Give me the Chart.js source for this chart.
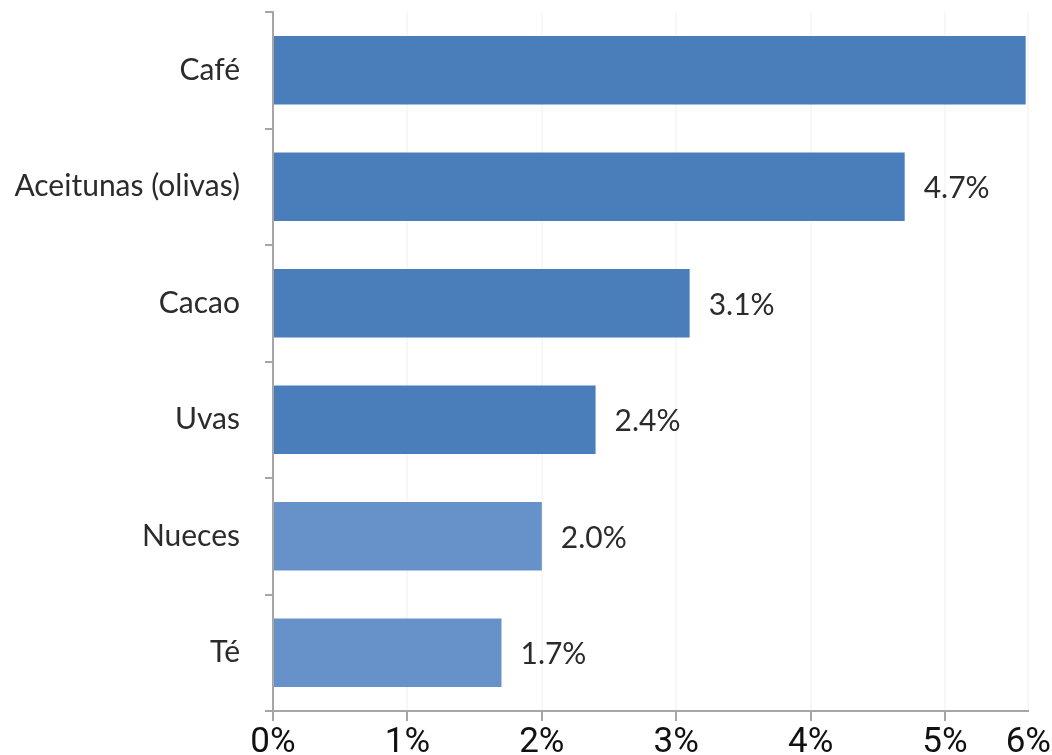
<!DOCTYPE html>
<html>
<head>
<meta charset="utf-8">
<script src="https://cdn.jsdelivr.net/npm/chart.js@4.4.0/dist/chart.umd.min.js"></script>
<style>
  html, body { margin: 0; padding: 0; background: #fff; }
  #wrap { width: 1052px; height: 755px; }
</style>
</head>
<body>
<div id="wrap"><canvas id="chart"></canvas></div>
<script>
// share of each crop, in percent
const categories = ['Café', 'Aceitunas (olivas)', 'Cacao', 'Uvas', 'Nueces', 'Té'];
const shares = [5.6, 4.7, 3.1, 2.4, 2.0, 1.7];
const barColors = ['#4a7ebb', '#4a7ebb', '#4a7ebb', '#4a7ebb', '#6791c9', '#6791c9'];

// x axis: the last tick sits at the clipped right edge
const axisMax = 5.62;
const tickValues = [0, 1, 2, 3, 4, 5, axisMax];
const tickLabels = ['0%', '1%', '2%', '3%', '4%', '5%', '6%'];

const labelFont = 'Lato, "Open Sans", sans-serif';
const axisFont = 'Roboto, "Liberation Sans", Arial, sans-serif';
const axisGray = '#a6a6a6';

// value text just past the end of each bar, cut off at the plot edge
const valueLabels = {
    id: 'valueLabels',
    afterDatasetsDraw(chart) {
        const { ctx, chartArea } = chart;
        const meta = chart.getDatasetMeta(0);
        ctx.save();
        ctx.beginPath();
        ctx.rect(chartArea.left, 0, chartArea.right - chartArea.left, chart.height);
        ctx.clip();
        ctx.font = '30px ' + labelFont;
        ctx.fillStyle = '#2b2b2b';
        ctx.textBaseline = 'middle';
        meta.data.forEach((bar, i) => {
            ctx.fillText(shares[i].toFixed(1) + '%', bar.x + 19, bar.y + 2);
        });
        ctx.restore();
    }
};

new Chart(document.getElementById('chart').getContext('2d'), {
    type: 'bar',
    data: {
        labels: categories,
        datasets: [{
            data: shares,
            backgroundColor: barColors,
            borderWidth: 0,
            barPercentage: 0.59,
            categoryPercentage: 1.0
        }]
    },
    options: {
        indexAxis: 'y',
        responsive: true,
        maintainAspectRatio: false,
        animation: false,
        layout: { padding: { top: 12, right: 22, left: 0, bottom: 0 } },
        plugins: {
            legend: { display: false },
            tooltip: { enabled: false }
        },
        scales: {
            x: {
                min: 0,
                max: axisMax,
                afterBuildTicks: s => { s.ticks = tickValues.map(v => ({ value: v })); },
                afterFit: s => { s.height = 44; },
                grid: {
                    color: c => c.index === 0 ? 'rgba(0,0,0,0)' : 'rgba(0,0,0,0.03)',
                    tickColor: c => c.index === tickValues.length - 1 ? 'rgba(0,0,0,0)' : axisGray,
                    tickLength: 10,
                    lineWidth: 2
                },
                border: { color: axisGray, width: 2 },
                ticks: {
                    callback: (v, i) => tickLabels[i],
                    font: { family: axisFont, size: 35 },
                    color: '#111',
                    padding: 1,
                    maxRotation: 0,
                    autoSkip: false
                }
            },
            y: {
                afterFit: s => {
                    s.width = 273;
                    s.paddingTop = 0;
                    s.paddingBottom = 0;
                },
                grid: {
                    drawOnChartArea: false,
                    tickLength: 8,
                    tickColor: axisGray,
                    lineWidth: 2
                },
                border: { color: axisGray, width: 2 },
                ticks: {
                    font: { family: labelFont, size: 30 },
                    color: '#2b2b2b',
                    padding: 25,
                    autoSkip: false
                }
            }
        }
    },
    plugins: [valueLabels]
});
</script>
</body>
</html>
